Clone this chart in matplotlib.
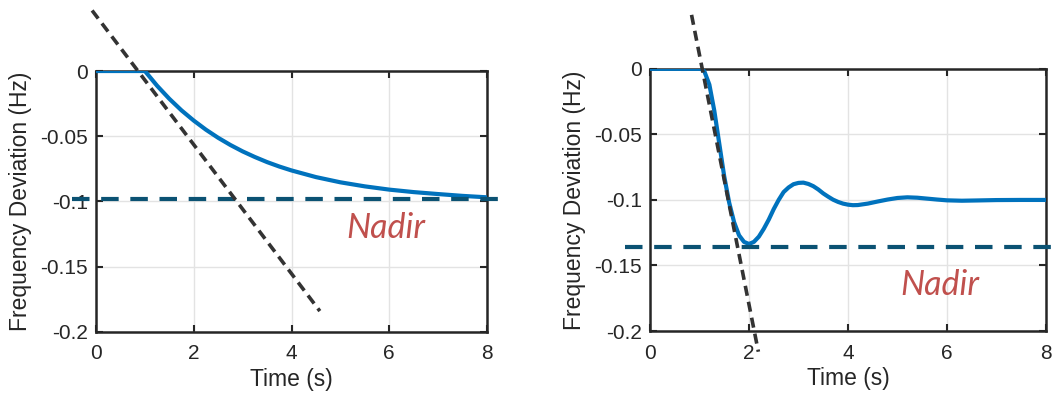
import numpy as np
import matplotlib
matplotlib.use('Agg')
import matplotlib.pyplot as plt

# ===== data =====
# left panel: slow first-order response
t_left = [0, 1.0, 1.25, 1.5, 1.75, 2.0, 2.25, 2.5, 2.75, 3.0, 3.25, 3.5, 3.75,
          4.0, 4.5, 5.0, 5.5, 6.0, 6.5, 7.0, 7.5, 8.0]
f_left = [0, 0, -0.0113, -0.0213, -0.0302, -0.0380, -0.0450, -0.0512, -0.0567,
          -0.0616, -0.0659, -0.0698, -0.0732, -0.0762, -0.0813, -0.0853, -0.0884,
          -0.0909, -0.0928, -0.0943, -0.0957, -0.0968]
tangent_left_t = [-0.08, 4.58]
tangent_left_f = [0.0464, -0.184]
nadir_left = -0.098

# right panel: oscillatory response
t_right = [0, 1.0, 1.05, 1.1, 1.2, 1.3, 1.4, 1.5, 1.6, 1.7, 1.8, 1.9, 2.0, 2.1,
           2.2, 2.3, 2.4, 2.5, 2.6, 2.7, 2.8, 2.9, 3.0, 3.1, 3.2, 3.3, 3.4, 3.5,
           3.6, 3.7, 3.8, 3.9, 4.0, 4.1, 4.2, 4.4, 4.6, 4.8, 5.0, 5.2, 5.4, 5.6,
           5.8, 6.0, 6.3, 6.6, 7.0, 7.5, 8.0]
f_right = [0, 0, -0.0003, -0.002, -0.012, -0.032, -0.057, -0.082, -0.102, -0.117,
           -0.127, -0.132, -0.1336, -0.132, -0.128, -0.122, -0.115, -0.107, -0.100,
           -0.094, -0.0905, -0.088, -0.087, -0.0868, -0.0878, -0.0895, -0.092,
           -0.095, -0.0975, -0.0998, -0.1015, -0.1028, -0.1036, -0.1040, -0.1039,
           -0.1028, -0.1012, -0.0997, -0.0985, -0.0980, -0.0983, -0.0990, -0.0997,
           -0.1003, -0.1006, -0.1004, -0.1001, -0.1000, -0.1000]
tangent_right_t = [0.84, 2.19]
tangent_right_f = [0.0412, -0.2158]
nadir_right = -0.136

xticks = [0, 2, 4, 6, 8]
yticks = [0, -0.05, -0.1, -0.15, -0.2]
ytick_labels = ['0', '-0.05', '-0.1', '-0.15', '-0.2']
nadir_span = [-0.5, 8.35]

plt.rcParams['font.family'] = ['Liberation Sans', 'DejaVu Sans']

fig = plt.figure(figsize=(10.61, 3.99), dpi=100)
ax1 = fig.add_axes([0.0905, 0.168, 0.3685, 0.654])
ax2 = fig.add_axes([0.6126, 0.1704, 0.3732, 0.657])

panels = [
    (ax1, t_left, f_left, tangent_left_t, tangent_left_f, nadir_left, (5.12, -0.128)),
    (ax2, t_right, f_right, tangent_right_t, tangent_right_f, nadir_right, (5.05, -0.1725)),
]

for ax, t, f, tt, tf, nad, txt in panels:
    ax.plot(t, f, color='#0072BD', lw=3, zorder=3, solid_capstyle='butt')
    ax.plot(nadir_span, [nad, nad], color='#0B5273', lw=3,
            linestyle=(0, (4.2, 2.8)), clip_on=False, zorder=4)
    ax.plot(tt, tf, color='#333333', lw=2.6, linestyle=(0, (2.8, 1.7)),
            clip_on=False, zorder=5)
    ax.text(txt[0], txt[1], 'Nadir', color='#C0504D', fontsize=24.5,
            family='Lato', style='italic', ha='left', va='baseline')

    ax.set_xlim(0, 8)
    ax.set_ylim(-0.2, 0)
    ax.set_xticks(xticks)
    ax.set_yticks(yticks)
    ax.set_yticklabels(ytick_labels)
    ax.grid(True, color='#e3e3e3', lw=1)
    ax.set_axisbelow(True)
    ax.tick_params(direction='in', top=True, right=True, length=5, width=1.5,
                   labelsize=15, colors='#262626', pad=6)
    ax.tick_params(axis='x', pad=9)
    for sp in ax.spines.values():
        sp.set_linewidth(1.8)
        sp.set_color('#262626')
    ax.set_xlabel('Time (s)', fontsize=16.5, color='#262626', labelpad=3)
    ax.set_ylabel('Frequency Deviation (Hz)', fontsize=16.5, color='#262626', labelpad=6)

fig.savefig('out.png', dpi=100)
